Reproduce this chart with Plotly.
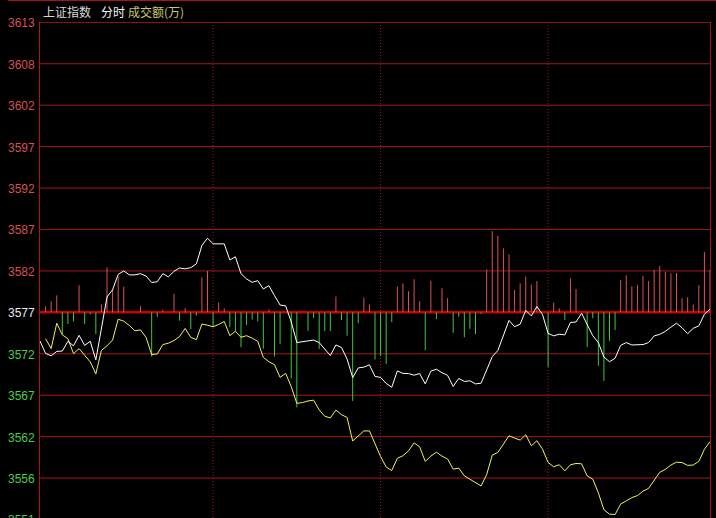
import plotly.graph_objects as go

# ---------------- data ----------------
base_price = 3577.0
level_step = 36 / 7
level_labels = ["3613", "3608", "3602", "3597", "3592", "3587", "3582",
                "3577", "3572", "3567", "3562", "3556", "3551"]
hour_marks = [31, 61, 91]

# price (white line), one point per sample, index 0..120
price = [
    3573.44, 3571.90, 3571.60, 3572.15, 3572.20, 3573.40, 3572.85, 3574.15, 3572.90, 3573.40,
    3571.10, 3575.10, 3578.90, 3579.80, 3581.70, 3582.15, 3581.65, 3581.65, 3581.80, 3581.50,
    3580.70, 3580.80, 3581.80, 3581.40, 3582.10, 3582.50, 3582.40, 3582.55, 3583.00, 3585.30,
    3586.20, 3585.50, 3585.50, 3585.50, 3583.50, 3583.90, 3581.80, 3581.14, 3580.73, 3580.93,
    3579.90, 3580.31, 3579.07, 3577.91, 3577.80, 3575.80, 3573.25, 3573.38, 3573.46, 3573.56,
    3573.25, 3572.43, 3571.64, 3572.95, 3572.63, 3571.20, 3568.90, 3570.10, 3570.20, 3570.48,
    3569.05, 3568.92, 3568.18, 3567.70, 3569.73, 3569.42, 3569.40, 3569.20, 3569.40, 3568.12,
    3569.70, 3569.94, 3569.50, 3569.18, 3567.80, 3568.80, 3568.42, 3568.50, 3568.12, 3568.20,
    3569.85, 3571.50, 3572.26, 3574.20, 3576.00, 3575.22, 3575.53, 3577.25, 3576.55, 3577.72,
    3576.73, 3574.39, 3574.08, 3574.29, 3574.20, 3575.74, 3575.80, 3576.88, 3575.40, 3574.10,
    3573.25, 3571.45, 3570.87, 3571.30, 3572.90, 3573.25, 3572.95, 3573.00, 3573.00, 3573.25,
    3574.08, 3574.27, 3574.64, 3575.16, 3575.65, 3575.08, 3574.35, 3575.02, 3575.32, 3576.77,
    3577.39,
]

# average price (yellow line), index 1..120
avg_price = [
    3573.73, 3572.50, 3575.65, 3574.20, 3573.73, 3571.87, 3572.50, 3571.70, 3570.85, 3569.36,
    3572.28, 3572.84, 3573.56, 3576.15, 3575.90, 3575.37, 3574.70, 3574.83, 3573.88, 3571.76,
    3571.83, 3573.00, 3573.17, 3573.50, 3574.00, 3575.00, 3573.90, 3573.60, 3575.55, 3575.40,
    3575.20, 3575.50, 3575.86, 3574.10, 3574.65, 3573.90, 3574.10, 3573.80, 3573.40, 3571.40,
    3570.87, 3570.50, 3568.93, 3569.42, 3567.77, 3565.70, 3565.80, 3566.00, 3566.10, 3564.90,
    3564.10, 3563.90, 3564.87, 3564.30, 3563.95, 3561.03, 3561.60, 3562.28, 3562.28, 3560.70,
    3559.10, 3557.80, 3557.37, 3558.88, 3559.20, 3559.80, 3560.80, 3560.30, 3558.50, 3559.15,
    3559.65, 3559.15, 3558.80, 3557.54, 3557.66, 3556.70, 3556.30, 3555.85, 3555.45, 3556.85,
    3559.28, 3559.61, 3560.73, 3561.68, 3561.39, 3561.14, 3561.80, 3560.44, 3561.06, 3560.02,
    3558.37, 3557.83, 3558.08, 3557.33, 3558.08, 3558.24, 3558.20, 3556.70, 3556.30, 3554.60,
    3552.50, 3551.95, 3551.90, 3553.20, 3553.60, 3554.00, 3554.25, 3554.80, 3555.15, 3556.20,
    3557.15, 3557.50, 3558.05, 3558.40, 3558.35, 3558.00, 3558.05, 3558.50, 3560.00, 3560.95,
]

# buy/sell strength bars around the base line, index 1..120
strength = [
    0.75, 1.37, 2.11, -2.69, -1.45, -1.12, 3.35, -1.45, -0.25, -2.69,
    0.99, 5.59, 2.86, 4.47, 3.19, 0.0, 0.0, 0.80, 0.0, -5.50,
    -0.60, 0.30, 0.0, 2.30, -1.04, 0.54, -2.07, -0.41, 4.35, 5.13,
    -1.78, 1.24, 0.50, -1.84, -2.40, -4.33, -1.58, -0.90, -1.12, -4.52,
    0.37, -5.50, -3.92, 0.0, -8.20, -11.80, 0.0, -2.30, -0.72, -4.52,
    -2.33, -2.33, 1.97, -0.97, -2.90, -11.00, -1.37, 1.84, 0.97, -5.85,
    -5.40, -6.40, -1.22, 3.23, 3.60, 2.62, 4.10, 1.38, -4.70, 3.94,
    -0.83, 2.99, 1.76, -2.55, -0.56, -3.10, -2.05, -2.70, -0.20, 5.32,
    10.08, 9.47, 7.95, 7.18, 2.77, 3.60, 4.46, 3.46, 3.87, 0.0,
    -6.80, 1.20, 0.50, -0.95, 4.20, 2.88, 0.0, -4.30, -0.72, -6.63,
    -8.50, -3.53, -2.20, 4.00, 4.60, 3.23, 3.40, 4.50, 3.87, 5.28,
    5.75, 5.05, 4.83, 4.87, 1.76, 1.88, 0.97, 3.37, 7.47, 5.28,
]

# ---------------- figure ----------------
idx = list(range(len(price)))
avg_idx = list(range(1, len(avg_price) + 1))
bar_idx = list(range(1, len(strength) + 1))

GRID = "#a81616"
top = 3613.04
bottom = top - 496 / 8.056

fig = go.Figure()

# strength bars as 1px vertical segments
for sign, color in ((1, "#e05252"), (-1, "#3cc83c")):
    xs, ys = [], []
    for i, v in zip(bar_idx, strength):
        if v * sign > 0:
            xs += [i, i, None]
            ys += [base_price, base_price + v, None]
    fig.add_trace(go.Scatter(x=xs, y=ys, mode="lines",
                             line=dict(color=color, width=1),
                             hoverinfo="skip", showlegend=False))

fig.add_trace(go.Scatter(x=avg_idx, y=avg_price, mode="lines",
                         line=dict(color="#f2f25e", width=1),
                         showlegend=False))
fig.add_trace(go.Scatter(x=idx, y=price, mode="lines",
                         line=dict(color="#ffffff", width=1),
                         showlegend=False))

levels = [base_price + level_step * k for k in range(7, -6, -1)]
shapes = []
annotations = []
for lv, lab in zip(levels, level_labels):
    is_base = abs(lv - base_price) < 1e-6
    shapes.append(dict(type="line", xref="paper", x0=0, x1=1, yref="y", y0=lv, y1=lv,
                       line=dict(color="#c80000" if is_base else GRID,
                                 width=2.5 if is_base else 1),
                       layer="below"))
    if lv > base_price + 1e-6:
        col = "#d85050"
    elif is_base:
        col = "#e8e8e8"
    else:
        col = "#4ccc4c"
    annotations.append(dict(text=lab, xref="paper", x=-0.005, xanchor="right",
                            yref="paper", y=(lv - bottom) / (top - bottom),
                            yanchor="middle", yshift=-1,
                            showarrow=False,
                            font=dict(family="Liberation Sans, Arial", size=12, color=col)))

for h in hour_marks:
    shapes.append(dict(type="line", xref="x", x0=h, x1=h, yref="paper", y0=0, y1=1,
                       line=dict(color=GRID, width=1, dash="1px,2px"), layer="below"))

# thin top border line of the panel above
shapes.append(dict(type="line", xref="paper", x0=-0.048, x1=1.01, yref="paper",
                   y0=1.0433, y1=1.0433, line=dict(color=GRID, width=1)))

title_font = "Noto Sans CJK SC"
for txt, xp, col in (("上证指数", 0.0022, "#d8d8d8"),
                     ("分时", 0.088, "#f4f4f4"),
                     ("成交额(万)", 0.129, "#c8c870")):
    annotations.append(dict(text=txt, xref="paper", x=xp, xanchor="left",
                            yref="paper", y=1.0202, yanchor="middle",
                            showarrow=False,
                            font=dict(family=title_font, size=12, color=col)))

fig.update_layout(
    width=716, height=518,
    margin=dict(l=40, r=6, t=22, b=0),
    paper_bgcolor="#000000", plot_bgcolor="#000000",
    xaxis=dict(range=[0, 120], showgrid=False, zeroline=False,
               showticklabels=False, showline=False, fixedrange=True),
    yaxis=dict(range=[bottom, top], showgrid=False, zeroline=False,
               showticklabels=False, showline=True, linecolor=GRID,
               linewidth=1, mirror=True, fixedrange=True),
    shapes=shapes, annotations=annotations,
    hovermode=False,
)

fig.write_html(
    "out.html",
    config={"displayModeBar": False},
    post_script="document.body.style.margin='0';document.body.style.background='#000';"
                "document.documentElement.style.overflow='hidden';",
)
